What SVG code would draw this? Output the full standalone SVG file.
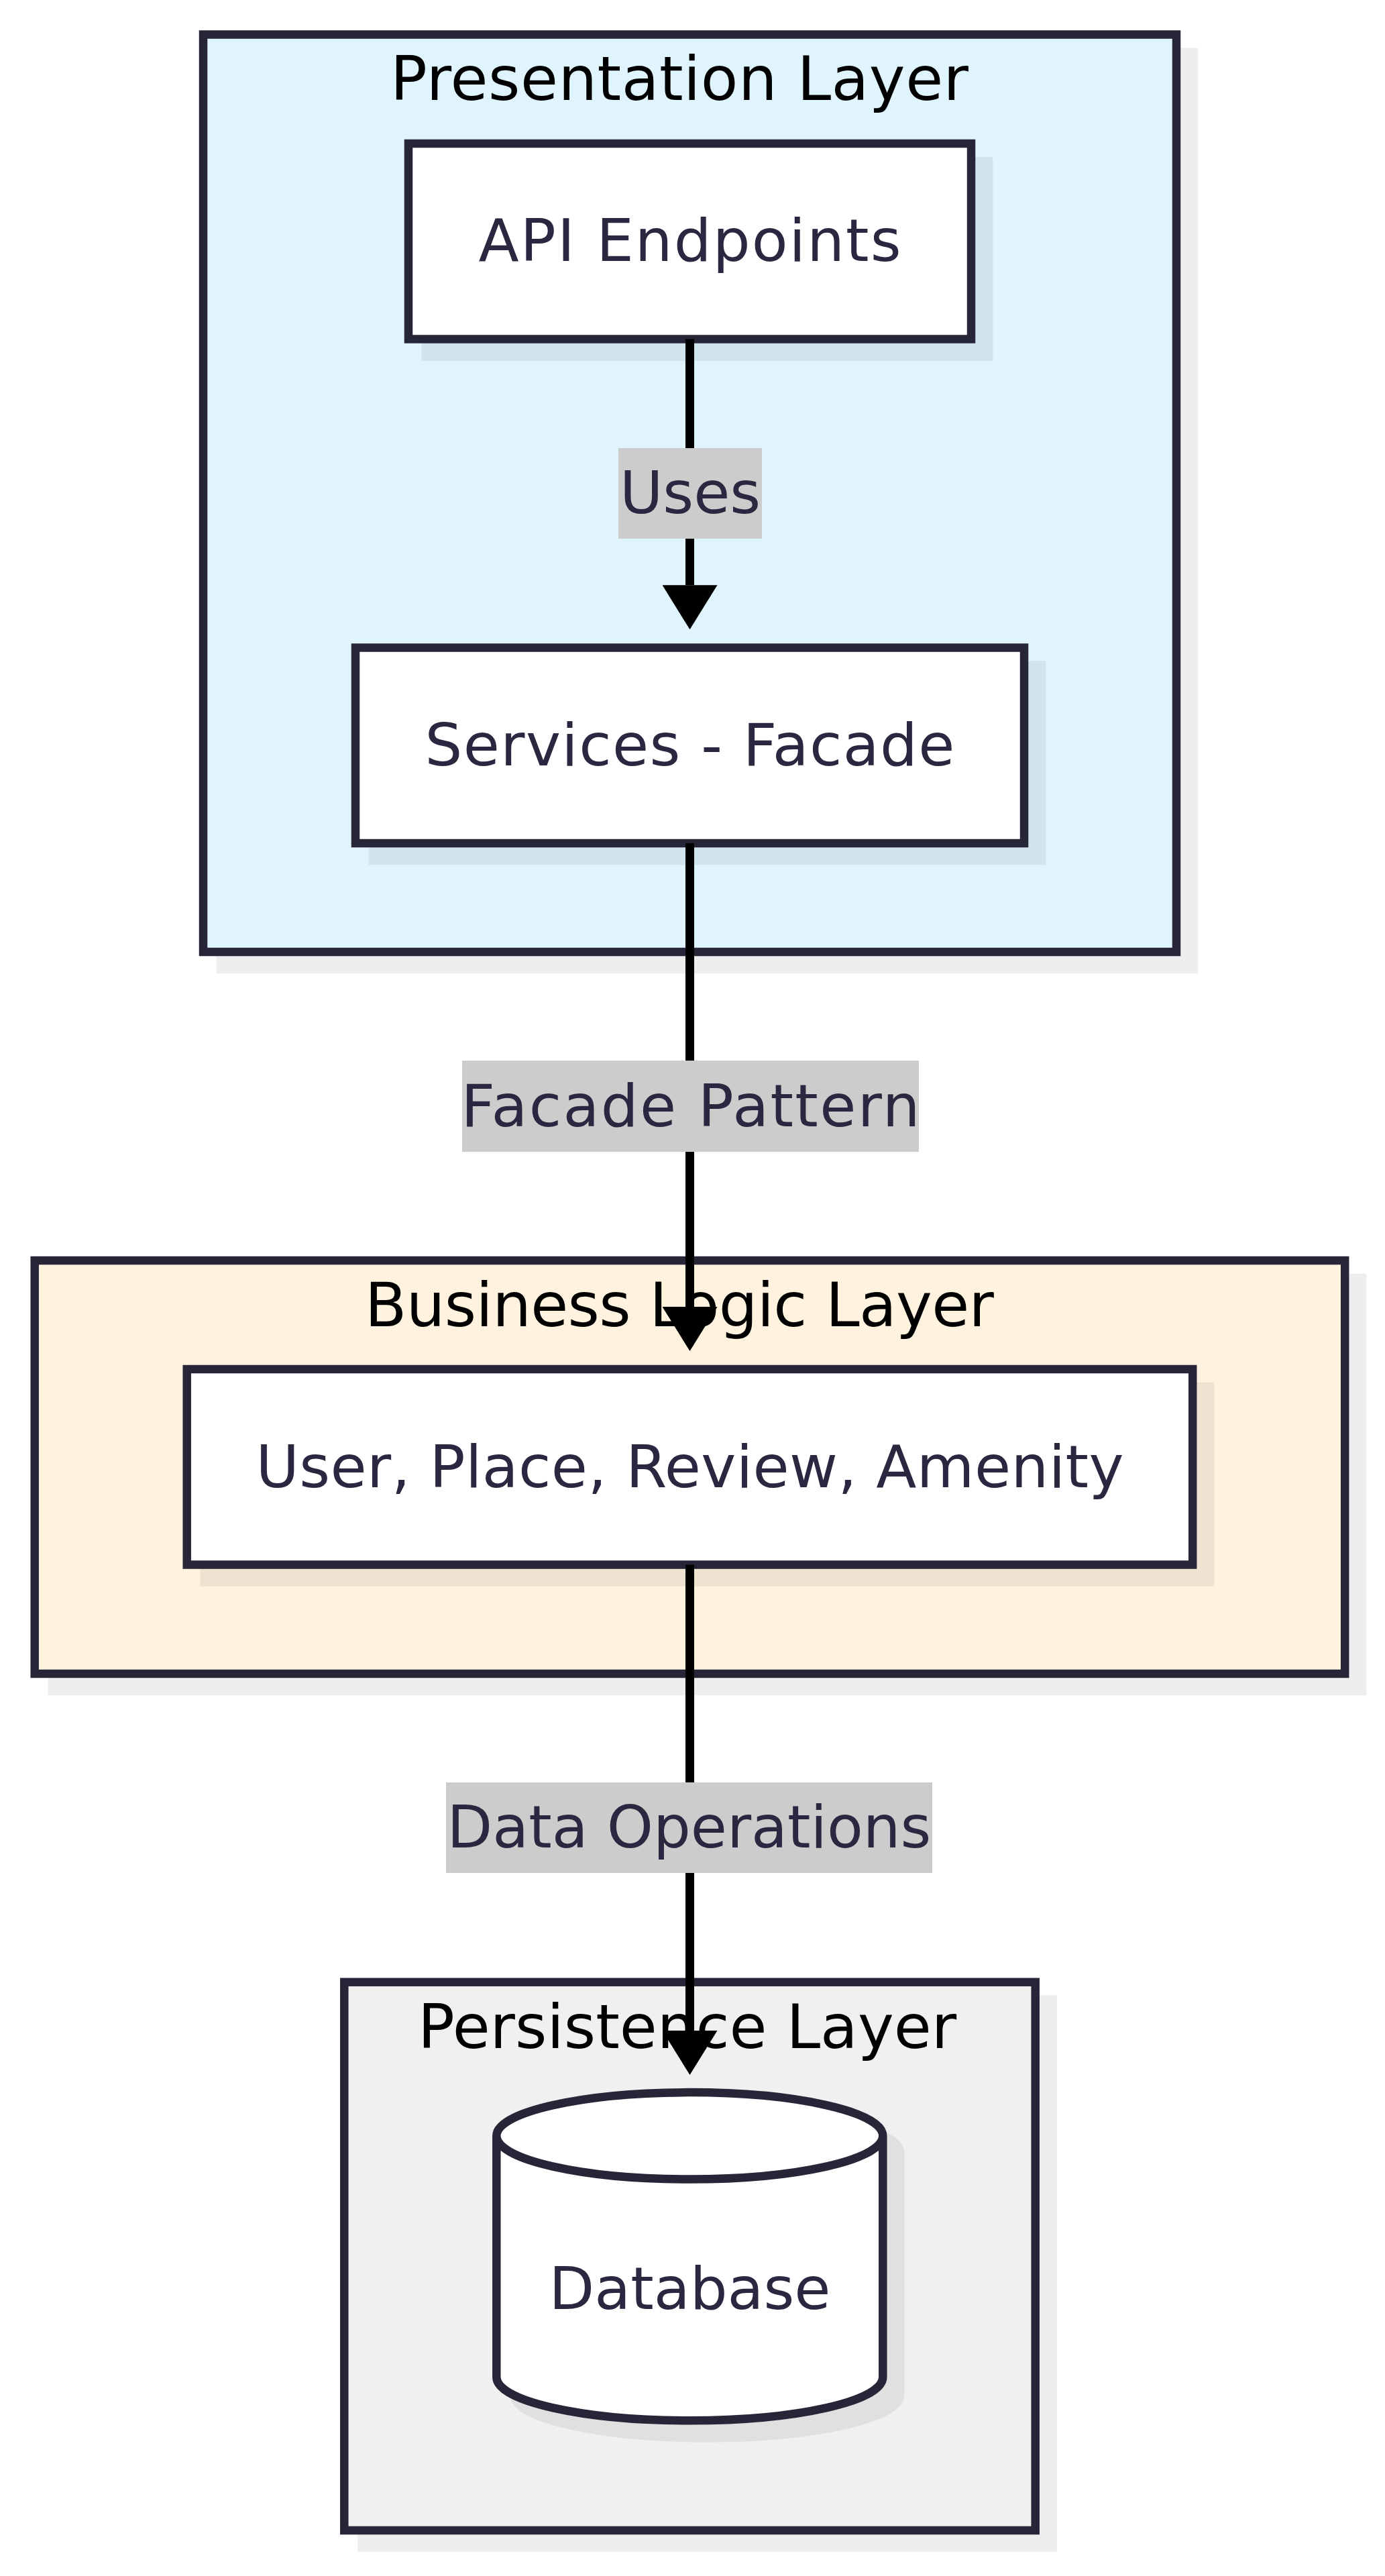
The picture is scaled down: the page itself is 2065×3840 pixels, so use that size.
<svg xmlns="http://www.w3.org/2000/svg" width="2065" height="3840" viewBox="0 0 2065 3840">
<defs>
<style>
.cluster{stroke:#272639;stroke-width:12.5}
.node{fill:#ffffff;stroke:#272639;stroke-width:12.5}
.shadow{opacity:0.063}
.shadow *{fill:#000;stroke:#000;stroke-width:12.5}
.title{font-family:"DejaVu Sans",sans-serif;font-size:91px;fill:#000000}
.label{font-family:"DejaVu Sans",sans-serif;font-size:88px;fill:#2a2740;text-anchor:middle}
.edge{stroke:#000;stroke-width:13;fill:none}
.elbg{fill:#cccccc}
</style>
<marker id="arrow" markerUnits="userSpaceOnUse" markerWidth="66" markerHeight="82" viewBox="0 0 66 82" refX="0" refY="41" orient="auto">
<path d="M0,0 L66,41 L0,82 Z" fill="#000"/>
</marker>
</defs>
<rect width="2065" height="3840" fill="#ffffff"/>

<g id="cluster-presentation">
<g class="shadow" transform="translate(26,26)"><rect x="303" y="51.5" width="1451" height="1367.5"/></g>
<rect class="cluster" x="303" y="51.5" width="1451" height="1367.5" fill="#e0f4fd"/>
<text class="title" x="582" y="149.3" textLength="862" lengthAdjust="spacing">Presentation Layer</text>
</g>

<g id="cluster-business">
<g class="shadow" transform="translate(26,26)"><rect x="51.7" y="1879" width="1953.5" height="616"/></g>
<rect class="cluster" x="51.7" y="1879" width="1953.5" height="616" fill="#fff3e0"/>
<text class="title" x="544" y="1977" textLength="938" lengthAdjust="spacing">Business Logic Layer</text>
</g>

<g id="cluster-persistence">
<g class="shadow" transform="translate(26,26)"><rect x="513.3" y="2954.7" width="1030.4" height="817.3"/></g>
<rect class="cluster" x="513.3" y="2954.7" width="1030.4" height="817.3" fill="#f0f0f0"/>
<text class="title" x="623" y="3052.7">Persistence Layer</text>
</g>

<g id="node-api">
<g class="shadow" transform="translate(26,26)"><rect x="609" y="214" width="839" height="291.5"/></g>
<rect class="node" x="609" y="214" width="839" height="291.5"/>
<text class="label" x="1028.5" y="389.3" textLength="630" lengthAdjust="spacing">API Endpoints</text>
</g>

<g id="node-services">
<g class="shadow" transform="translate(26,26)"><rect x="530" y="965.5" width="997" height="291.5"/></g>
<rect class="node" x="530" y="965.5" width="997" height="291.5"/>
<text class="label" x="1028.5" y="1141" textLength="790" lengthAdjust="spacing">Services - Facade</text>
</g>

<g id="node-models">
<g class="shadow" transform="translate(26,26)"><rect x="278.7" y="2041" width="1499.5" height="291.5"/></g>
<rect class="node" x="278.7" y="2041" width="1499.5" height="291.5"/>
<text class="label" x="1028.5" y="2216.5" textLength="1294" lengthAdjust="spacing">User, Place, Review, Amenity</text>
</g>

<g id="node-database">
<g class="shadow" transform="translate(26,26)"><path d="M740.3,3183.8 a288,64.7 0 0,0 576,0 a288,64.7 0 0,0 -576,0 l0,359.8 a288,64.7 0 0,0 576,0 l0,-359.8"/></g>
<path class="node" d="M740.3,3183.8 a288,64.7 0 0,0 576,0 a288,64.7 0 0,0 -576,0 l0,359.8 a288,64.7 0 0,0 576,0 l0,-359.8"/>
<text class="label" x="1028.5" y="3442">Database</text>
</g>

<g id="connectors">
<path class="edge" d="M1028.5,505.5 L1028.5,872.3" marker-end="url(#arrow)"/>
<path class="edge" d="M1028.5,1257 L1028.5,1948" marker-end="url(#arrow)"/>
<path class="edge" d="M1028.5,2332.5 L1028.5,3027" marker-end="url(#arrow)"/>
<g id="edge-label-uses">
<rect class="elbg" x="922" y="668" width="214" height="135"/>
<text class="label" x="1029" y="765">Uses</text>
</g>
<g id="edge-label-facade">
<rect class="elbg" x="689" y="1581" width="681" height="136"/>
<text class="label" x="1029.5" y="1678.5" textLength="684" lengthAdjust="spacing">Facade Pattern</text>
</g>
<g id="edge-label-data">
<rect class="elbg" x="665" y="2657" width="725" height="135"/>
<text class="label" x="1027.5" y="2754">Data Operations</text>
</g>
</g>
</svg>
